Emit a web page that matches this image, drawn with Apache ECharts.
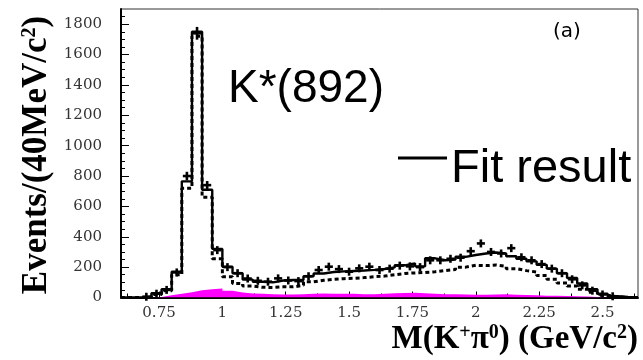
<!DOCTYPE html>
<html><head><meta charset="utf-8">
<script src="https://cdn.jsdelivr.net/npm/echarts@6/dist/echarts.min.js"></script>
<style>html,body{margin:0;padding:0;background:#fff}#c{width:643px;height:360px}</style>
</head><body><div id="c"></div>
<script>
// Bin centres (GeV/c^2), 40 MeV bins
const binCenters = [0.62,0.66,0.70,0.74,0.78,0.82,0.86,0.90,0.94,0.98,
  1.02,1.06,1.10,1.14,1.18,1.22,1.26,1.30,1.34,1.38,
  1.42,1.46,1.50,1.54,1.58,1.62,1.66,1.70,1.74,1.78,
  1.82,1.86,1.90,1.94,1.98,2.02,2.06,2.10,2.14,2.18,
  2.22,2.26,2.30,2.34,2.38,2.42,2.46,2.50,2.54,2.58,2.62];
const binWidth = 0.04;
// Fit result (solid histogram)
const fitTotal = [0,0,5,28,55,170,765,1750,710,320,
  203,160,118,104,100,112,115,115,140,158,
  168,172,175,178,182,188,198,212,225,205,
  258,245,250,268,280,290,296,290,272,255,
  238,215,190,160,128,92,55,25,8,3,0];
// Dashed component
const fitDashed = [0,0,3,20,45,150,720,1720,660,255,
  137,93,75,67,66,70,70,80,103,113,
  120,124,127,131,137,141,150,158,162,165,
  170,178,185,200,212,210,214,205,190,177,
  168,145,120,95,75,55,35,15,5,1,0];
// Data points with error bars
const dataPoints = [0,0,5,25,50,165,800,1740,740,312,
  200,160,125,110,104,126,112,108,140,181,
  203,187,170,192,203,181,190,210,205,200,
  245,245,255,262,305,356,300,290,325,265,
  245,220,190,160,120,80,45,20,8,3,0];
const dataErrors = [0,0,3,6,8,13,28,42,27,18,
  14,13,11,11,10,11,11,10,12,13,
  14,14,13,14,14,13,14,14,14,14,
  16,16,16,16,17,19,17,18,18,16,
  16,15,14,13,11,9,7,4,3,2,0];
// Magenta filled component
const magentaComp = [0,0,0,3,14,25,35,48,55,60,
  45,33,26,24,22,20,20,22,24,26,
  25,24,24,22,22,24,28,30,32,28,
  24,22,22,20,18,18,20,22,18,16,
  14,12,12,10,8,6,3,0,0,0,0];
// Ticks
const xTickLabels = [0.75,1,1.25,1.5,1.75,2,2.25,2.5];
const xMinorTicks = [0.625,0.875,1.125,1.375,1.625,1.875,2.125,2.375,2.625];
const yTickLabels = [0,200,400,600,800,1000,1200,1400,1600,1800];
const yMinorTicks = [50,100,150,250,300,350,450,500,550,650,700,750,850,900,950,
  1050,1100,1150,1250,1300,1350,1450,1500,1550,1650,1700,1750,1850];

function stepData(vals){
  const out = [];
  for (let i = 0; i < vals.length; i++) out.push([binCenters[i] - binWidth/2, vals[i]]);
  const last = vals.length - 1;
  out.push([binCenters[last] + binWidth/2, vals[last]]);
  return out;
}

const chart = echarts.init(document.getElementById('c'), null, {renderer:'canvas'});
const tickFont = {fontFamily:'DejaVu Serif', fontSize:15, color:'#333'};
const xMin = 0.6, xMax = 2.64, yMin = 0, yMax = 1900;

function renderCross(params, api){
  const x = api.value(0), v = api.value(1), e = api.value(2);
  if (v <= 3) return null;
  const pC = api.coord([x, v]);
  const pL = api.coord([x - 0.016, v]);
  const pR = api.coord([x + 0.016, v]);
  const pT = api.coord([x, v + e]);
  const pB = api.coord([x, v - e]);
  const top = Math.min(pT[1], pC[1] - 4);
  const bot = Math.max(pB[1], pC[1] + 4);
  return {type:'group', children:[
    {type:'line', shape:{x1:pL[0], y1:pC[1], x2:pR[0], y2:pC[1]}, style:{stroke:'#000', lineWidth:2.6}},
    {type:'line', shape:{x1:pC[0], y1:top, x2:pC[0], y2:bot}, style:{stroke:'#000', lineWidth:2.6}}
  ]};
}

chart.setOption({
  animation:false,
  backgroundColor:'#fff',
  grid:{left:121, right:5, top:9, bottom:62.5, show:true, borderColor:'#333', borderWidth:1, backgroundColor:'transparent'},
  xAxis:[
    {type:'value', position:'bottom', min:xMin, max:xMax,
     axisLine:{show:true, onZero:false, lineStyle:{color:'#000', width:2}},
     axisTick:{show:true, inside:true, length:6, customValues:xTickLabels, lineStyle:{color:'#000', width:1}},
     axisLabel:Object.assign({show:true, margin:8, customValues:xTickLabels, formatter:(v)=>String(v)}, tickFont),
     splitLine:{show:false}},
    {type:'value', position:'bottom', min:xMin, max:xMax,
     axisLine:{show:false},
     axisTick:{show:true, inside:true, length:4, customValues:xMinorTicks, lineStyle:{color:'#000', width:1}},
     axisLabel:{show:false}, splitLine:{show:false}}
  ],
  yAxis:[
    {type:'value', position:'left', min:yMin, max:yMax,
     axisLine:{show:true, onZero:false, lineStyle:{color:'#000', width:2}},
     axisTick:{show:true, inside:true, length:8, customValues:yTickLabels, lineStyle:{color:'#000', width:1}},
     axisLabel:Object.assign({show:true, margin:19, customValues:yTickLabels, formatter:(v)=>String(v)}, tickFont),
     splitLine:{show:false}},
    {type:'value', position:'left', min:yMin, max:yMax,
     axisLine:{show:false},
     axisTick:{show:true, inside:true, length:4, customValues:yMinorTicks, lineStyle:{color:'#000', width:1}},
     axisLabel:{show:false}, splitLine:{show:false}}
  ],
  series:[
    {type:'line', name:'magenta', step:'end', data:stepData(magentaComp), symbol:'none',
     lineStyle:{width:0, color:'#ff00ff'}, areaStyle:{color:'#ff00ff', opacity:1}, silent:true, z:1},
    {type:'line', name:'dashed', step:'end', data:stepData(fitDashed), symbol:'none',
     lineStyle:{color:'#000', width:3, type:[4,3]}, silent:true, z:2},
    {type:'line', name:'Fit result', step:'end', data:stepData(fitTotal), symbol:'none',
     lineStyle:{color:'#000', width:2.4}, silent:true, z:3},
    {type:'custom', name:'data', renderItem:renderCross, encode:{x:0, y:1},
     data:binCenters.map((c,i)=>[c, dataPoints[i], dataErrors[i]]), silent:true, z:4}
  ],
  graphic:[
    {type:'text', x:228, y:89, style:{text:'K*(892)', fontFamily:'Liberation Sans', fontSize:46, fill:'#000', align:'left', verticalAlign:'middle'}},
    {type:'line', shape:{x1:398, y1:158, x2:447, y2:158}, style:{stroke:'#000', lineWidth:3}},
    {type:'text', x:451, y:169, style:{text:'Fit result', fontFamily:'Liberation Sans', fontSize:47, fill:'#000', align:'left', verticalAlign:'middle'}},
    {type:'text', x:553, y:32, style:{text:'(a)', fontFamily:'DejaVu Sans', fontSize:20, fill:'#000', align:'left', verticalAlign:'middle'}},
    {type:'text', x:37, y:155, rotation:Math.PI/2,
     style:{text:'{m|Events/(40MeV/c}{s|2}{m|)}', align:'center', verticalAlign:'middle', fill:'#000',
       rich:{m:{fontFamily:'Liberation Serif', fontWeight:'bold', fontSize:35, fill:'#000'},
             s:{fontFamily:'Liberation Serif', fontWeight:'bold', fontSize:20, verticalAlign:'top', fill:'#000'}}}},
    {type:'text', x:638, y:339,
     style:{text:'{m|M(K}{s|+}{p|π}{s|0}{m|) (GeV/c}{s|2}{m|)}', align:'right', verticalAlign:'middle', fill:'#000',
       rich:{m:{fontFamily:'Liberation Serif', fontWeight:'bold', fontSize:33, fill:'#000'},
             p:{fontFamily:'Liberation Serif', fontWeight:'bold', fontSize:33, fill:'#000'},
             s:{fontFamily:'Liberation Serif', fontWeight:'bold', fontSize:20, verticalAlign:'top', fill:'#000'}}}}
  ]
});
</script></body></html>
